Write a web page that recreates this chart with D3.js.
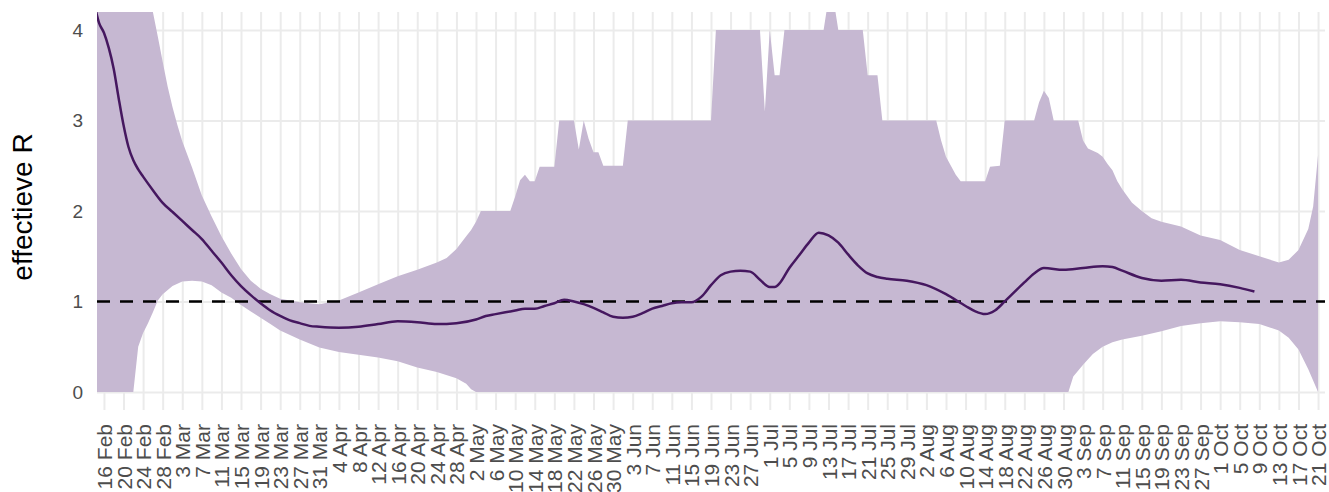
<!DOCTYPE html>
<html>
<head>
<meta charset="utf-8">
<script src="https://cdn.jsdelivr.net/npm/d3@7"></script>
<style>
  body { margin: 0; background: #fff; }
  svg { display: block; font-family: "Liberation Sans", Arial, sans-serif; }
</style>
</head>
<body>
<script>
// median estimate of R
var medianR = [
  ["2020-02-14", 4.3], ["2020-02-15", 4.08], ["2020-02-16", 3.97], ["2020-02-17", 3.8],
  ["2020-02-18", 3.57], ["2020-02-19", 3.25], ["2020-02-20", 2.95], ["2020-02-21", 2.71],
  ["2020-02-22", 2.56], ["2020-02-23", 2.46], ["2020-02-24", 2.38], ["2020-02-26", 2.23],
  ["2020-02-28", 2.09], ["2020-03-01", 1.99], ["2020-03-03", 1.89], ["2020-03-05", 1.79],
  ["2020-03-07", 1.69], ["2020-03-09", 1.56], ["2020-03-11", 1.43], ["2020-03-13", 1.29],
  ["2020-03-15", 1.17], ["2020-03-17", 1.07], ["2020-03-19", 0.98], ["2020-03-21", 0.9],
  ["2020-03-23", 0.84], ["2020-03-25", 0.79], ["2020-03-27", 0.76], ["2020-03-29", 0.73],
  ["2020-03-31", 0.72], ["2020-04-04", 0.71], ["2020-04-08", 0.72], ["2020-04-12", 0.75],
  ["2020-04-16", 0.78], ["2020-04-20", 0.77], ["2020-04-24", 0.75], ["2020-04-28", 0.76],
  ["2020-05-02", 0.8], ["2020-05-04", 0.84], ["2020-05-06", 0.86], ["2020-05-08", 0.88],
  ["2020-05-10", 0.9], ["2020-05-12", 0.92], ["2020-05-14", 0.92], ["2020-05-16", 0.95],
  ["2020-05-18", 0.98], ["2020-05-20", 1.02], ["2020-05-22", 1.0], ["2020-05-24", 0.97],
  ["2020-05-26", 0.93], ["2020-05-28", 0.88], ["2020-05-30", 0.83], ["2020-06-01", 0.82],
  ["2020-06-03", 0.83], ["2020-06-05", 0.87], ["2020-06-07", 0.92], ["2020-06-09", 0.95],
  ["2020-06-11", 0.98], ["2020-06-13", 0.99], ["2020-06-15", 0.99], ["2020-06-17", 1.05],
  ["2020-06-19", 1.18], ["2020-06-21", 1.29], ["2020-06-23", 1.33], ["2020-06-25", 1.34],
  ["2020-06-27", 1.33], ["2020-06-29", 1.24], ["2020-07-01", 1.16], ["2020-07-02", 1.16],
  ["2020-07-03", 1.2], ["2020-07-05", 1.37], ["2020-07-07", 1.51], ["2020-07-09", 1.65],
  ["2020-07-11", 1.76], ["2020-07-13", 1.73], ["2020-07-15", 1.65], ["2020-07-17", 1.52],
  ["2020-07-19", 1.4], ["2020-07-21", 1.31], ["2020-07-23", 1.27], ["2020-07-25", 1.25],
  ["2020-07-29", 1.23], ["2020-08-02", 1.18], ["2020-08-06", 1.08], ["2020-08-10", 0.95],
  ["2020-08-12", 0.89], ["2020-08-14", 0.86], ["2020-08-16", 0.9], ["2020-08-18", 1.0],
  ["2020-08-22", 1.21], ["2020-08-24", 1.31], ["2020-08-26", 1.37], ["2020-08-30", 1.35],
  ["2020-09-03", 1.37], ["2020-09-07", 1.39], ["2020-09-09", 1.38], ["2020-09-11", 1.34],
  ["2020-09-15", 1.26], ["2020-09-19", 1.23], ["2020-09-23", 1.24], ["2020-09-27", 1.21],
  ["2020-10-01", 1.19], ["2020-10-05", 1.15], ["2020-10-08", 1.11]
];

// upper bound of the interval
var upperR = [
  ["2020-02-14", 9], ["2020-02-16", 8], ["2020-02-20", 6], ["2020-02-24", 4.7],
  ["2020-02-26", 4.2], ["2020-02-27", 3.93], ["2020-02-28", 3.65], ["2020-02-29", 3.38],
  ["2020-03-01", 3.15], ["2020-03-02", 2.95], ["2020-03-03", 2.77], ["2020-03-05", 2.48],
  ["2020-03-07", 2.17], ["2020-03-09", 1.94], ["2020-03-11", 1.72], ["2020-03-13", 1.53],
  ["2020-03-15", 1.36], ["2020-03-17", 1.23], ["2020-03-19", 1.14], ["2020-03-21", 1.08],
  ["2020-03-23", 1.03], ["2020-03-25", 1.01], ["2020-03-27", 0.99], ["2020-03-31", 0.97],
  ["2020-04-04", 1.01], ["2020-04-08", 1.1], ["2020-04-12", 1.19], ["2020-04-16", 1.28],
  ["2020-04-20", 1.35], ["2020-04-24", 1.43], ["2020-04-26", 1.48], ["2020-04-28", 1.58],
  ["2020-04-30", 1.72], ["2020-05-01", 1.79], ["2020-05-02", 1.88], ["2020-05-03", 2.0],
  ["2020-05-09", 2.0], ["2020-05-10", 2.16], ["2020-05-11", 2.34], ["2020-05-12", 2.4],
  ["2020-05-13", 2.33], ["2020-05-14", 2.33], ["2020-05-15", 2.49], ["2020-05-18", 2.49],
  ["2020-05-19", 3.0], ["2020-05-22", 3.0], ["2020-05-23", 2.68], ["2020-05-24", 3.0],
  ["2020-05-25", 2.8], ["2020-05-26", 2.65], ["2020-05-27", 2.65], ["2020-05-28", 2.5],
  ["2020-06-01", 2.5], ["2020-06-02", 3.0], ["2020-06-19", 3.0], ["2020-06-20", 4.0],
  ["2020-06-29", 4.0], ["2020-06-30", 3.1], ["2020-07-01", 4.0], ["2020-07-02", 3.5],
  ["2020-07-03", 3.5], ["2020-07-04", 4.0], ["2020-07-12", 4.0], ["2020-07-13", 4.35],
  ["2020-07-14", 4.35], ["2020-07-15", 4.0], ["2020-07-20", 4.0], ["2020-07-21", 3.5],
  ["2020-07-23", 3.5], ["2020-07-24", 3.0], ["2020-08-04", 3.0], ["2020-08-05", 2.78],
  ["2020-08-06", 2.6], ["2020-08-07", 2.5], ["2020-08-08", 2.4], ["2020-08-09", 2.33],
  ["2020-08-14", 2.33], ["2020-08-15", 2.49], ["2020-08-17", 2.5], ["2020-08-18", 3.0],
  ["2020-08-24", 3.0], ["2020-08-25", 3.2], ["2020-08-26", 3.33], ["2020-08-27", 3.25],
  ["2020-08-28", 3.0], ["2020-09-02", 3.0], ["2020-09-03", 2.78], ["2020-09-04", 2.69],
  ["2020-09-06", 2.64], ["2020-09-07", 2.6], ["2020-09-08", 2.52], ["2020-09-09", 2.45],
  ["2020-09-10", 2.33], ["2020-09-11", 2.24], ["2020-09-13", 2.09], ["2020-09-15", 2.0],
  ["2020-09-17", 1.92], ["2020-09-19", 1.88], ["2020-09-23", 1.83], ["2020-09-27", 1.73],
  ["2020-10-01", 1.68], ["2020-10-05", 1.57], ["2020-10-09", 1.5], ["2020-10-13", 1.43],
  ["2020-10-15", 1.46], ["2020-10-17", 1.57], ["2020-10-19", 1.8], ["2020-10-20", 2.05],
  ["2020-10-21", 2.62]
];

// lower bound of the interval
var lowerR = [
  ["2020-02-14", 0], ["2020-02-22", 0], ["2020-02-23", 0.5], ["2020-02-24", 0.65],
  ["2020-02-25", 0.76], ["2020-02-26", 0.88], ["2020-02-27", 1.01], ["2020-02-28", 1.08],
  ["2020-03-01", 1.17], ["2020-03-03", 1.22], ["2020-03-05", 1.23], ["2020-03-07", 1.22],
  ["2020-03-09", 1.18], ["2020-03-11", 1.1], ["2020-03-13", 1.04], ["2020-03-15", 0.96],
  ["2020-03-17", 0.89], ["2020-03-19", 0.82], ["2020-03-21", 0.75], ["2020-03-23", 0.68],
  ["2020-03-25", 0.63], ["2020-03-27", 0.58], ["2020-03-31", 0.49], ["2020-04-04", 0.44],
  ["2020-04-08", 0.41], ["2020-04-12", 0.38], ["2020-04-16", 0.34], ["2020-04-20", 0.27],
  ["2020-04-24", 0.22], ["2020-04-28", 0.15], ["2020-04-30", 0.09], ["2020-05-01", 0.03],
  ["2020-05-02", 0], ["2020-08-31", 0], ["2020-09-01", 0.17], ["2020-09-03", 0.3],
  ["2020-09-05", 0.42], ["2020-09-07", 0.5], ["2020-09-09", 0.55], ["2020-09-11", 0.58],
  ["2020-09-15", 0.62], ["2020-09-19", 0.67], ["2020-09-23", 0.73], ["2020-09-27", 0.76],
  ["2020-10-01", 0.78], ["2020-10-05", 0.77], ["2020-10-09", 0.75], ["2020-10-13", 0.68],
  ["2020-10-15", 0.6], ["2020-10-17", 0.47], ["2020-10-19", 0.25], ["2020-10-21", 0]
];

var yTicks = [0, 1, 2, 3, 4];
var refLine = 1;
var firstTick = "2020-02-16", lastTick = "2020-10-21", tickStepDays = 4;
var yTitle = "effectieve R";

var W = 1329, H = 492;
var pLeft = 97, pRight = 1325, pTop = 12, pBottom = 410;
var parse = d3.utcParse("%Y-%m-%d");

var svg = d3.select("body").append("svg")
  .attr("width", W)
  .attr("height", H);

var x = d3.scaleUtc()
  .domain([d3.utcHour.offset(parse("2020-02-14"), 14), d3.utcHour.offset(parse("2020-10-22"), 10)])
  .range([pLeft, pRight]);
var y = d3.scaleLinear()
  .domain([-0.2, 4.2])
  .range([pBottom, pTop]);

var tickDates = [];
for (var d = parse(firstTick); d <= parse(lastTick); d = d3.utcDay.offset(d, tickStepDays)) {
  tickDates.push(d);
}

// x axis: grid lines + rotated labels
var xAxis = d3.axisBottom(x)
  .tickValues(tickDates)
  .tickFormat(d3.utcFormat("%-d %b"))
  .tickSize(-(pBottom - pTop))
  .tickPadding(0);
var gx = svg.append("g")
  .attr("transform", "translate(0," + pBottom + ")")
  .call(xAxis);
gx.select(".domain").remove();
gx.selectAll(".tick line").attr("stroke", "#ebebeb").attr("stroke-width", 2);
gx.selectAll(".tick text")
  .attr("fill", "#4d4d4d")
  .style("font-size", "21px")
  .attr("text-anchor", "end")
  .attr("transform", "translate(0,14) rotate(-90)")
  .attr("x", 0)
  .attr("y", 0)
  .attr("dy", "0.36em");

// y axis
var yAxis = d3.axisLeft(y)
  .tickValues(yTicks)
  .tickFormat(d3.format("d"))
  .tickSize(-(pRight - pLeft))
  .tickPadding(14);
var gy = svg.append("g")
  .attr("transform", "translate(" + pLeft + ",0)")
  .call(yAxis);
gy.select(".domain").remove();
gy.selectAll(".tick line").attr("stroke", "#ebebeb").attr("stroke-width", 2);
gy.selectAll(".tick text")
  .attr("fill", "#4d4d4d")
  .style("font-size", "19px");

svg.append("text")
  .attr("transform", "translate(32,207) rotate(-90)")
  .attr("text-anchor", "middle")
  .style("font-size", "28px")
  .attr("fill", "#000")
  .text(yTitle);

svg.append("clipPath").attr("id", "panel")
  .append("rect")
  .attr("x", pLeft).attr("y", pTop)
  .attr("width", pRight - pLeft).attr("height", pBottom - pTop);

var plot = svg.append("g").attr("clip-path", "url(#panel)");

// ribbon: upper forward, lower backward
var band = upperR.concat(lowerR.slice().reverse());
var bandLine = d3.line()
  .x(function(p) { return x(parse(p[0])); })
  .y(function(p) { return y(p[1]); });
plot.append("path")
  .attr("d", bandLine(band) + "Z")
  .attr("fill", "#c6b8d2");

plot.append("line")
  .attr("x1", pLeft).attr("x2", pRight)
  .attr("y1", y(refLine)).attr("y2", y(refLine))
  .attr("stroke", "#000")
  .attr("stroke-width", 2.5)
  .attr("stroke-dasharray", "13,10");

var medLine = d3.line()
  .x(function(p) { return x(parse(p[0])); })
  .y(function(p) { return y(p[1]); })
  .curve(d3.curveMonotoneX);
plot.append("path")
  .attr("d", medLine(medianR))
  .attr("fill", "none")
  .attr("stroke", "#45175f")
  .attr("stroke-width", 2.5);
</script>
</body>
</html>
